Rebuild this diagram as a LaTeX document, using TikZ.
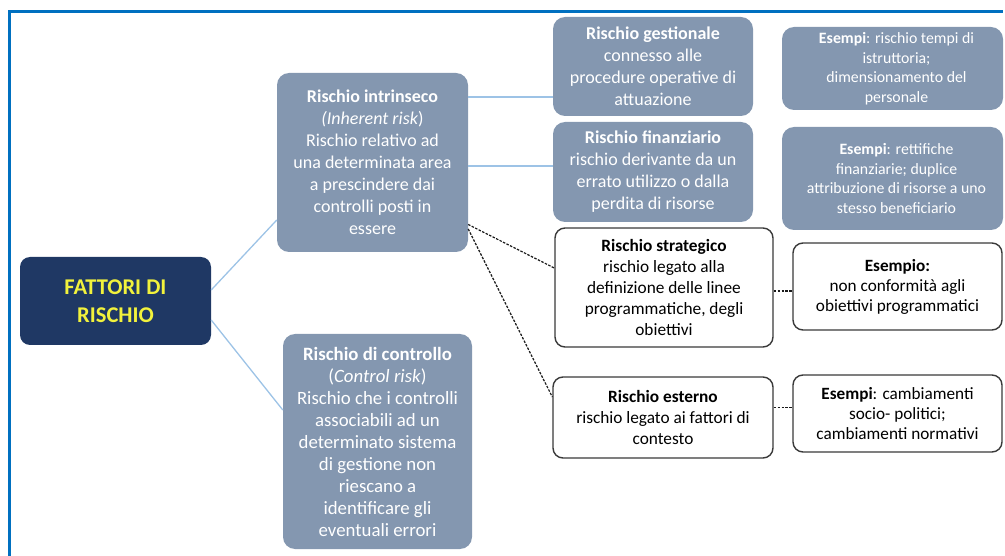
\documentclass[tikz,border=0pt]{standalone}
\usepackage{fontspec}
\setmainfont{Carlito}
\usetikzlibrary{calc}
\definecolor{frameblue}{HTML}{0070C0}
\definecolor{navy}{HTML}{1F3864}
\definecolor{greyblue}{HTML}{8497B0}
\definecolor{linkblue}{HTML}{9DC3E6}
\definecolor{titleyellow}{HTML}{F2F23C}
\definecolor{boxborder}{HTML}{3A3A3A}
\tikzset{
  titlebox/.style={fill=navy, rounded corners=10pt, text=titleyellow, align=center,
    font=\fontsize{22.5}{28}\selectfont\bfseries, inner sep=0pt},
  greybox/.style={fill=greyblue, rounded corners=12pt, text=white, align=center,
    font=\fontsize{18}{22}\selectfont, inner sep=0pt},
  examplebox/.style={fill=greyblue, rounded corners=12pt, text=white, align=center,
    font=\fontsize{15.8}{19.5}\selectfont, inner sep=0pt},
  whitebox/.style={fill=white, draw=boxborder, line width=1.4pt, rounded corners=10pt,
    text=black, align=center, font=\fontsize{17.3}{21}\selectfont, inner sep=0pt},
  whiteex/.style={whitebox, font=\fontsize{17.2}{20}\selectfont},
  link/.style={draw=linkblue, line width=1.3pt},
  dashlink/.style={draw=black!90, line width=1.2pt, dash pattern=on 2.5pt off 1.4pt},
}
\begin{document}
\begin{tikzpicture}[x=1pt, y=-1pt]
\useasboundingbox (0,0) rectangle (1005,556);
% frame
\draw[frameblue, line width=3pt] (9,556) -- (9,11.5) -- (1003,11.5);

% nodes
\node[titlebox, minimum width=191pt, minimum height=88pt] (fat) at (115.5,301)
  {FATTORI DI\\RISCHIO};
\node[greybox, minimum width=191pt, minimum height=179pt] (intr) at (372.5,162.5)
  {\textbf{Rischio intrinseco}\\\textit{(Inherent risk})\\Rischio relativo ad\\una determinata area\\a prescindere dai\\controlli posti in\\essere};
\node[greybox, font=\fontsize{18.8}{22}\selectfont, minimum width=189pt, minimum height=215pt] (ctrl) at (377.5,441.5)
  {\textbf{Rischio di controllo}\\(\textit{Control risk})\\Rischio che i controlli\\associabili ad un\\determinato sistema\\di gestione non\\riescano a\\identificare gli\\eventuali errori};
\node[greybox, minimum width=200pt, minimum height=99pt] (gest) at (653,66.5)
  {\textbf{Rischio gestionale}\\connesso alle\\procedure operative di\\attuazione};
\node[greybox, minimum width=200pt, minimum height=100pt] (fin) at (653,172)
  {\textbf{Rischio finanziario}\\rischio derivante da un\\errato utilizzo o dalla\\perdita di risorse};
\node[examplebox, minimum width=221pt, minimum height=83pt] (es1) at (892.5,68.5)
  {\hspace*{8pt}\textbf{Esempi}: rischio tempi di\\\hspace*{8pt}istruttoria;\\\hspace*{8pt}dimensionamento del\\\hspace*{8pt}personale};
\node[examplebox, minimum width=221pt, minimum height=103pt] (es2) at (892.5,178.5)
  {\hspace*{8pt}\textbf{Esempi}: rettifiche\\\hspace*{8pt}finanziarie; duplice\\\hspace*{8pt}attribuzione di risorse a uno\\\hspace*{8pt}stesso beneficiario};
\node[whitebox, minimum width=218pt, minimum height=119pt] (strat) at (664,287.5)
  {\textbf{Rischio strategico}\\rischio legato alla\\definizione delle linee\\programmatiche, degli\\obiettivi};
\node[whitebox, minimum width=220pt, minimum height=81pt] (est) at (663,417.5)
  {\textbf{Rischio esterno}\\rischio legato ai fattori di\\contesto};
\node[whiteex, minimum width=209pt, minimum height=87pt] (exs) at (897.5,286.5)
  {\textbf{Esempio:}\\non conformità agli\\obiettivi programmatici};
\node[whiteex, minimum width=209pt, minimum height=77pt] (exe) at (897.5,413.5)
  {\textbf{Esempi}: cambiamenti\\socio- politici;\\cambiamenti normativi};

% connectors
\draw[link] ([yshift=11pt]fat.east) -- ([yshift=-57.5pt]intr.west);
\draw[link] ([yshift=-19pt]fat.east) -- ([yshift=31.5pt]ctrl.west);
\draw[link] ([yshift=65.5pt]intr.east) -- ([yshift=65.5pt]intr.east -| gest.west);
\draw[link] ([yshift=-3.5pt]intr.east) -- ([yshift=-3.5pt]intr.east -| fin.west);
\draw[dashlink] ([yshift=-62pt]intr.east) -- ([yshift=19.5pt]strat.west);
\draw[dashlink] ([yshift=-66.5pt]intr.east) -- ([yshift=20.5pt]est.west);
\draw[dashlink] ([yshift=-3.5pt]strat.east) -- ([yshift=-3.5pt]strat.east -| exs.west);
\draw[dashlink] ([yshift=10pt]est.east) -- ([yshift=10pt]est.east -| exe.west);
\end{tikzpicture}
\end{document}
